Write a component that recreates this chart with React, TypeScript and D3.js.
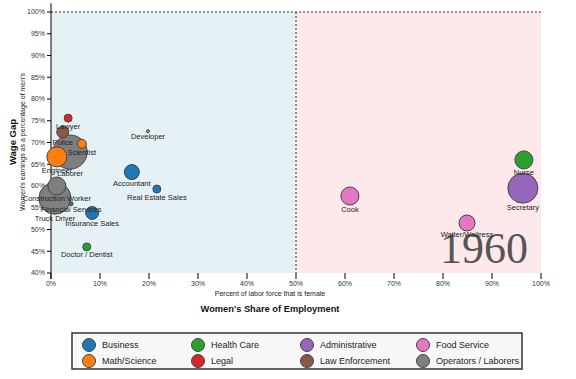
import React from "react";
import * as d3 from "d3";

const categories = [
  "Business",
  "Math/Science",
  "Health Care",
  "Legal",
  "Administrative",
  "Law Enforcement",
  "Food Service",
  "Operators / Laborers",
];
const colors = d3.schemeCategory10.slice(0, 8);

const jobs = [
  "Lawyer", "Police", "Laborer", "Scientist", "Engineer", "Developer",
  "Accountant", "Real Estate Sales", "Construction Worker", "Truck Driver",
  "Financial Services", "Insurance Sales", "Doctor / Dentist", "Cook",
  "Nurse", "Secretary", "Waiter/Waitress",
];
const jobCategory = [
  "Legal", "Law Enforcement", "Operators / Laborers", "Math/Science", "Math/Science", "Math/Science",
  "Business", "Business", "Operators / Laborers", "Operators / Laborers",
  "Business", "Business", "Health Care", "Food Service",
  "Health Care", "Administrative", "Food Service",
];
// women's share of employment (%)
const womenShare = [3.5, 2.4, 3.9, 6.3, 1.2, 19.8, 16.5, 21.6, 1.2, 0.8, 4.1, 8.4, 7.3, 61, 96.5, 96.3, 84.9];
// women's earnings as % of men's
const wageGap = [75.6, 72.4, 67.8, 69.7, 66.7, 72.6, 63.2, 59.3, 60, 57.2, 55.9, 53.8, 46, 57.7, 66, 59.5, 51.5];
// workers (thousands)
const workers = [55, 125, 1000, 70, 346, 8, 195, 55, 280, 886, 14, 146, 55, 280, 280, 779, 221];

const xTicks = [0, 10, 20, 30, 40, 50, 60, 70, 80, 90, 100];
const yTicks = [40, 45, 50, 55, 60, 65, 70, 75, 80, 85, 90, 95, 100];
const yearLabel = "1960";

export default function App() {
  const W = 576, H = 379;
  const x = d3.scaleLinear().domain([0, 100]).range([51, 541]);
  const y = d3.scaleLinear().domain([40, 100]).range([273, 12]);
  const r = d3.scaleSqrt().domain([0, d3.max(workers) as number]).range([0, 17]);
  const color = d3.scaleOrdinal<string, string>().domain(categories).range(colors);

  const data = jobs.map((j, i) => ({
    name: j, cat: jobCategory[i], xv: womenShare[i], yv: wageGap[i], size: workers[i],
  }));
  const sorted = [...data].sort((a, b) => b.size - a.size);
  const font = "Arial, 'Liberation Sans', sans-serif";

  const legendCols = [89, 198, 307, 423];
  const legendRows = [345, 361];

  return (
    <svg width={W} height={H} style={{ position: "absolute", left: 0, top: 0, background: "#fff" }} fontFamily={font}>
      <rect x={x(0)} y={y(100)} width={x(50) - x(0)} height={y(40) - y(100)} fill="#e5f1f5" />
      <rect x={x(50)} y={y(100)} width={x(100) - x(50)} height={y(40) - y(100)} fill="#fde8eb" />
      <line x1={x(0)} x2={x(100)} y1={y(100)} y2={y(100)} stroke="#333" strokeDasharray="2,2" />
      <line x1={x(50)} x2={x(50)} y1={y(100)} y2={y(40)} stroke="#333" strokeDasharray="2,2" />

      <text x={528} y={263} textAnchor="end" fontFamily="'Liberation Serif', 'Times New Roman', serif" fontSize={44} fill="#555">{yearLabel}</text>

      {/* y axis */}
      <line x1={x(0)} x2={x(0)} y1={y(102)} y2={y(40) + 6} stroke="#000" />
      {yTicks.map((t) => (
        <g key={"y" + t}>
          <line x1={x(0) - 4} x2={x(0)} y1={y(t)} y2={y(t)} stroke="#000" />
          <text x={x(0) - 6} y={y(t)} dy="0.35em" textAnchor="end" fontSize={7} fill="#333">{t}%</text>
        </g>
      ))}
      {/* x axis */}
      {xTicks.map((t) => (
        <g key={"x" + t}>
          <line x1={x(t)} x2={x(t)} y1={y(40)} y2={y(40) + 6} stroke="#000" />
          <text x={x(t)} y={286} textAnchor="middle" fontSize={7} fill="#333">{t}%</text>
        </g>
      ))}
      <text x={270} y={296} textAnchor="middle" fontSize={7} fill="#222">Percent of labor force that is female</text>
      <text x={270} y={312} textAnchor="middle" fontSize={9.3} fontWeight="bold" fill="#111">Women's Share of Employment</text>
      <text transform="translate(16,142) rotate(-90)" textAnchor="middle" fontSize={9.5} fontWeight="bold" fill="#111">Wage Gap</text>
      <text transform="translate(25,142) rotate(-90)" textAnchor="middle" fontSize={7} fill="#222">Women's earnings as a percentage of men's</text>

      {sorted.map((d) => {
        const rad = r(d.size);
        return (
          <g key={d.name}>
            <circle cx={x(d.xv)} cy={y(d.yv)} r={rad} fill={color(d.cat)} stroke="#444" strokeWidth={1} />
            <text x={x(d.xv)} y={y(d.yv) + rad + 6.5} textAnchor="middle" fontSize={7.5} fill="#222">{d.name}</text>
          </g>
        );
      })}

      {/* legend */}
      <rect x={72} y={333} width={450} height={36} fill="#f7f7f7" stroke="#333" strokeWidth={1.5} />
      {categories.map((c, i) => {
        const col = Math.floor(i / 2), row = i % 2;
        return (
          <g key={c}>
            <circle cx={legendCols[col]} cy={legendRows[row]} r={6.5} fill={color(c)} stroke="#444" />
            <text x={legendCols[col] + 13} y={legendRows[row]} dy="0.35em" fontSize={9} fill="#222">{c}</text>
          </g>
        );
      })}
    </svg>
  );
}
